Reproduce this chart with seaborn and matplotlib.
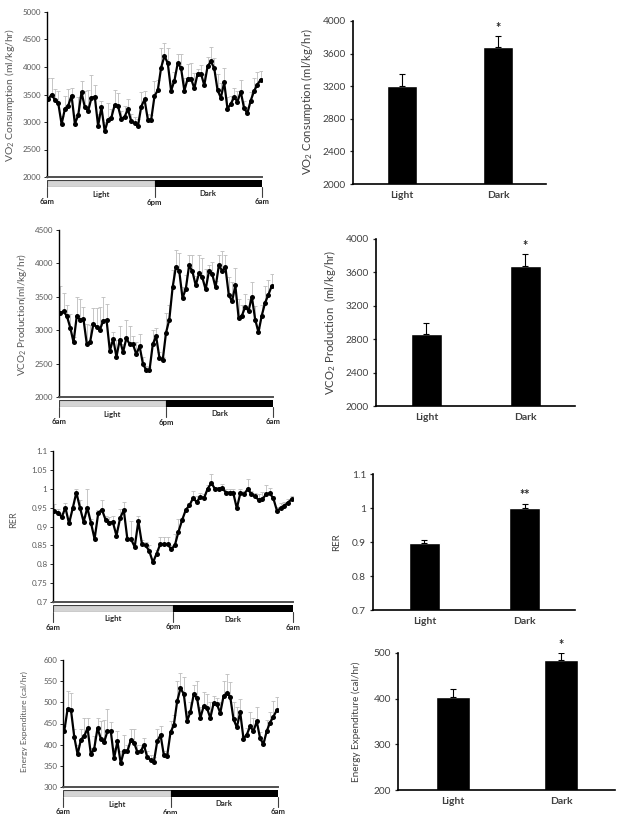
import numpy as np
import matplotlib
matplotlib.use('Agg')
import matplotlib.pyplot as plt
from matplotlib.patches import Rectangle
import seaborn as sns

sns.set_style('white')
plt.rcParams['font.family'] = ['Lato', 'DejaVu Sans']
plt.rcParams['mathtext.default'] = 'regular'

######### data ########
groups = ['Light', 'Dark']

vo2 = [3420, 3500, 3400, 3340, 2960, 3240, 3300, 3480, 2970, 3120,
       3540, 3270, 3200, 3440, 3460, 2930, 3270, 2830, 3040, 3080,
       3310, 3290, 3050, 3100, 3230, 3010, 2980, 2920, 3280, 3410,
       3040, 3040,
       3470, 3580, 3990, 4200, 4070, 3570, 3750, 4070, 3980, 3570,
       3790, 3790, 3610, 3880, 3880, 3670, 4010, 4100, 3980, 3580,
       3440, 3720, 3240, 3330, 3450, 3370, 3550, 3250, 3160, 3390,
       3560, 3680, 3770]
vo2_se = [380, 300, 200, 220, 150, 240, 300, 140, 150, 340,
          210, 290, 380, 410, 210, 220, 120, 170, 300, 150,
          270, 240, 150, 200, 190, 140, 120, 140, 270, 160,
          110, 80,
          280, 190, 350, 240, 270, 130, 150, 160, 250, 230,
          260, 280, 280, 90, 160, 210, 180, 270, 180, 300,
          260, 260, 220, 150, 160, 190, 210, 130, 120, 160,
          240, 220, 160]
vo2_bar = [3200, 3675]
vo2_bar_se = [145, 140]

vco2 = [3260, 3280, 3210, 3040, 2820, 3220, 3150, 3170, 2800, 2820,
        3090, 3050, 3010, 3140, 3150, 2690, 2870, 2600, 2860, 2670,
        2880, 2790, 2790, 2640, 2760, 2500, 2400, 2400, 2790, 2910,
        2590, 2550,
        2960, 3160, 3640, 3950, 3890, 3480, 3620, 3970, 3880, 3670,
        3850, 3790, 3610, 3880, 3840, 3640, 3970, 3890, 3940, 3530,
        3430, 3670, 3180, 3220, 3350, 3290, 3500, 3160, 2970, 3220,
        3410, 3530, 3660]
vco2_se = [400, 270, 160, 200, 80, 270, 310, 180, 300, 260,
           240, 280, 340, 350, 240, 140, 100, 250, 200, 130,
           280, 270, 130, 180, 180, 100, 70, 50, 210, 120,
           90, 50,
           300, 220, 260, 250, 270, 160, 200, 150, 240, 140,
           270, 290, 310, 100, 180, 100, 160, 290, 180, 270,
           290, 260, 280, 150, 190, 180, 220, 200, 60, 160,
           250, 220, 180]
vco2_bar = [2866, 3675]
vco2_bar_se = [132, 145]

rer = [0.94, 0.937, 0.925, 0.95, 0.908, 0.948, 0.99, 0.95, 0.912, 0.95,
       0.91, 0.867, 0.935, 0.945, 0.918, 0.91, 0.912, 0.876, 0.922, 0.944,
       0.866, 0.866, 0.846, 0.914, 0.853, 0.85, 0.835, 0.805, 0.828, 0.853,
       0.853, 0.853, 0.84,
       0.85, 0.886, 0.917, 0.944, 0.956, 0.975, 0.965, 0.978, 0.975, 1.0,
       1.015, 1.0, 1.0, 1.002, 0.99, 0.99, 0.99, 0.948, 0.99, 0.985,
       1.0, 0.985, 0.98, 0.97, 0.972, 0.985, 0.988, 0.975, 0.942, 0.948,
       0.955, 0.963, 0.972]
rer_se = [.02, .01, .01, .012, .01, .005, .01, .02, .015, .05,
          .01, .005, .01, .025, .01, .015, .015, .01, .025, .02,
          .005, .048, .005, .015, .01, .01, .015, .01, .01, .02,
          .02, .02, .01,
          .03, .035, .005, .005, .005, .02, .015, .01, .01, .01,
          .025, .005, .005, .01, .01, .01, .01, .01, .01, .01,
          .025, .01, .01, .015, .02, .025, .015, .005, .01, .015,
          .01, .01, .01]
rer_ticks = [0.7, 0.75, 0.8, 0.85, 0.9, 0.95, 1.0, 1.05, 1.1]
rer_bar = [0.897, 1.0]
rer_bar_se = [0.01, 0.013]

ee = [433, 485, 482, 418, 377, 412, 420, 439, 377, 390,
      439, 414, 406, 432, 432, 368, 408, 356, 386, 384,
      410, 405, 383, 384, 399, 370, 364, 360, 408, 423,
      375, 374,
      429, 446, 502, 533, 520, 456, 477, 519, 510, 463,
      491, 486, 463, 498, 495, 475, 515, 522, 513, 460,
      441, 477, 414, 424, 443, 432, 455, 415, 401, 432,
      452, 466, 481]
ee_se = [10, 42, 40, 20, 23, 25, 43, 24, 15, 30,
         23, 42, 52, 53, 22, 24, 24, 29, 36, 16,
         26, 31, 17, 16, 17, 15, 11, 12, 28, 22,
         10, 6,
         28, 24, 48, 36, 40, 24, 23, 22, 41, 27,
         33, 34, 37, 16, 15, 25, 36, 45, 34, 40,
         47, 30, 6, 16, 33, 31, 33, 15, 11, 26,
         26, 38, 31]
ee_bar = [403, 484]
ee_bar_se = [19, 16]

#Create figure
W, H = 624, 814
fig = plt.figure(figsize=(W / 100, H / 100), dpi=100)
TXT = '#404040'


def box(x0, y0, x1, y1):
    # axes from pixel box (top-left origin)
    return fig.add_axes([x0 / W, 1 - y1 / H, (x1 - x0) / W, (y1 - y0) / H])


def time_panel(x0, x1, y0, y1, vals, errs, ylim, yticks, ylabel, lab_xy, lab_fs, fmt=str):
    ax = box(x0, y0, x1, y1)
    x = np.arange(len(vals))
    ax.errorbar(x, vals, yerr=[np.zeros(len(errs)), errs], fmt='none',
                ecolor='#bdbdbd', elinewidth=0.6, capsize=1.3, capthick=0.6, zorder=1)
    sns.lineplot(x=x, y=vals, ax=ax, color='black', lw=1.6, marker='o',
                 markersize=3.6, markeredgewidth=0, zorder=3)
    ax.set_xlim(-0.4, len(vals) - 0.6)
    ax.set_ylim(*ylim)
    ax.set_yticks(yticks)
    ax.set_yticklabels([fmt(v) for v in yticks])
    ax.set_xticks([])
    ax.tick_params(axis='y', labelsize=5.8, labelcolor='#595959', length=2,
                   width=0.7, pad=2, left=True, direction='out')
    for s in ['top', 'right']:
        ax.spines[s].set_visible(False)
    ax.spines['left'].set_color('black')
    ax.spines['left'].set_linewidth(1.0)
    ax.spines['bottom'].set_color('#505050')
    ax.spines['bottom'].set_linewidth(1.4)
    fig.text(lab_xy[0] / W, 1 - lab_xy[1] / H, ylabel, rotation=90, ha='center',
             va='center', fontsize=lab_fs, color='#595959')

    # light / dark strip under the axis
    sy0 = y1 + 3
    sy1 = y1 + 10
    st = box(x0, sy0, x1, sy1)
    st.set_xlim(0, 1)
    st.set_ylim(0, 1)
    st.axis('off')
    st.add_patch(Rectangle((0, 0), 0.5, 1, facecolor='#d4d4d4', edgecolor='#404040', lw=0.8))
    st.add_patch(Rectangle((0.5, 0), 0.5, 1, facecolor='black', edgecolor='black', lw=0.8))
    h = sy1 - sy0
    for xx in [0, 0.5, 1]:
        st.plot([xx, xx], [0, -10 / h], color='#404040', lw=0.8, clip_on=False)
    for xx, t in [(0.25, 'Light'), (0.75, 'Dark')]:
        st.annotate(t, xy=(xx, 0), xycoords='axes fraction', xytext=(0, -7),
                    textcoords='offset pixels', ha='center', va='center',
                    fontsize=5.6, fontweight='bold', color='#262626')
    for xx, t in [(0, '6am'), (0.5, '6pm'), (1, '6am')]:
        st.annotate(t, xy=(xx, 0), xycoords='axes fraction', xytext=(0, -15),
                    textcoords='offset pixels', ha='center', va='center',
                    fontsize=5.6, fontweight='bold', color='#262626')
    return ax


def bar_panel(x0, x1, y0, y1, means, ses, ylim, yticks, ylabel, lab_xy, lab_fs, stars, fmt=str):
    ax = box(x0, y0, x1, y1)
    sns.barplot(x=groups, y=means, ax=ax, color='black', saturation=1,
                width=0.31, errorbar=None)
    ax.errorbar([0, 1], means, yerr=[[0, 0], ses], fmt='none', ecolor='black',
                elinewidth=0.8, capsize=2.2, capthick=0.8)
    ax.annotate(stars, xy=(1, means[1] + ses[1]), xytext=(0, 1.5),
                textcoords='offset points', ha='center', va='bottom',
                fontsize=9, fontweight='bold', color='#262626')
    ax.set_xlim(-0.51, 1.5)
    ax.set_ylim(*ylim)
    ax.set_yticks(yticks)
    ax.set_yticklabels([fmt(v) for v in yticks])
    ax.set_xlabel('')
    ax.set_ylabel('')
    ax.tick_params(axis='y', labelsize=7.3, labelcolor=TXT, length=2.5, width=0.9,
                   pad=2.5, left=True, direction='out')
    ax.tick_params(axis='x', labelsize=7.5, labelcolor=TXT, length=0, pad=5)
    for lbl in ax.get_xticklabels():
        lbl.set_fontweight('bold')
    for s in ['top', 'right']:
        ax.spines[s].set_visible(False)
    for s in ['left', 'bottom']:
        ax.spines[s].set_color('black')
        ax.spines[s].set_linewidth(1.2)
    fig.text(lab_xy[0] / W, 1 - lab_xy[1] / H, ylabel, rotation=90, ha='center',
             va='center', fontsize=lab_fs, color=TXT)
    return ax


time_panel(47, 262, 12, 177, vo2, vo2_se, (2000, 5000), range(2000, 5001, 500),
           'VO$_2$ Consumption (ml/kg/hr)', (10, 95), 7.5)
bar_panel(353, 546, 21, 184, vo2_bar, vo2_bar_se, (2000, 4000), range(2000, 4001, 400),
          'VO$_2$ Consumption (ml/kg/hr)', (307, 102), 8.2, '*')

time_panel(59, 273, 230, 397, vco2, vco2_se, (2000, 4500), range(2000, 4501, 500),
           'VCO$_2$ Production(ml/kg/hr)', (22, 315), 7.2)
bar_panel(376, 575, 239, 406, vco2_bar, vco2_bar_se, (2000, 4000), range(2000, 4001, 400),
          'VCO$_2$ Production  (ml/kg/hr)', (330, 322), 8.2, '*')

time_panel(53, 293, 451, 602, rer, rer_se, (0.7, 1.1), rer_ticks,
           'RER', (14, 520), 6.5, fmt=lambda v: '%g' % v)
bar_panel(373, 575, 474, 610, rer_bar, rer_bar_se, (0.7, 1.1), [0.7, 0.8, 0.9, 1.0, 1.1],
          'RER', (337, 542), 7, '**', fmt=lambda v: '%g' % v)

time_panel(63, 278, 660, 787, ee, ee_se, (300, 600), range(300, 601, 50),
           'Energy Expenditure (cal/hr)', (24, 722), 6)
bar_panel(398, 615, 653, 790, ee_bar, ee_bar_se, (200, 500), range(200, 501, 100),
          'Energy Expenditure (cal/hr)', (356, 722), 7.2, '*')

fig.savefig('out.png', dpi=100)
